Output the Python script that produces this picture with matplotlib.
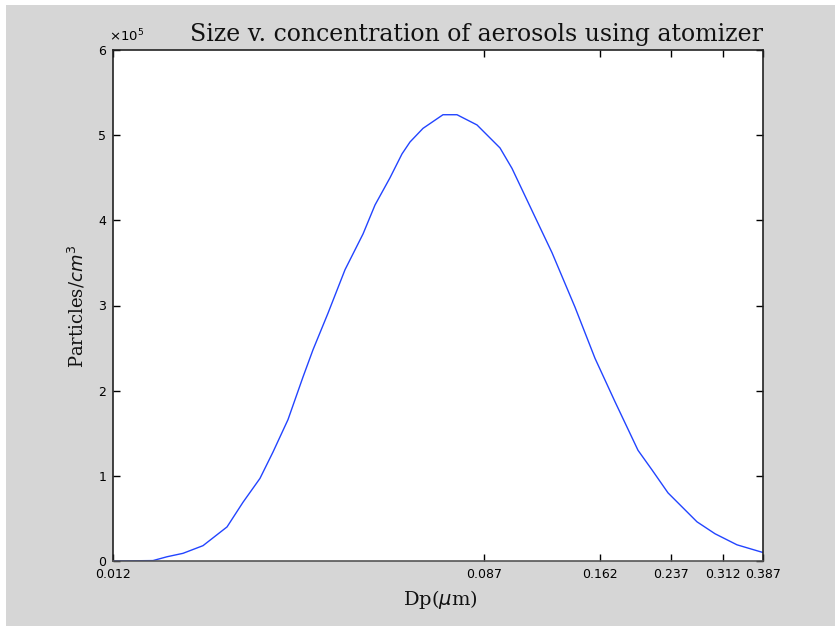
"""
Size v. concentration of aerosols (atomizer) - MATLAB-style log-x line plot.
"""
import matplotlib
matplotlib.use("Agg")
import matplotlib.pyplot as plt
from matplotlib.patches import Rectangle
from matplotlib.ticker import FixedLocator, FixedFormatter, NullLocator
import numpy as np

# particle diameter (um) and concentration (x1e5 particles/cm^3)
dp_um = [0.01200, 0.01486, 0.01602, 0.01744, 0.01941, 0.02207, 0.02404, 0.02632,
         0.02822, 0.03057, 0.03312, 0.03494, 0.03786, 0.04146, 0.04565, 0.04867,
         0.05273, 0.05622, 0.05868, 0.06290, 0.06999, 0.07543, 0.08394, 0.09492,
         0.10120, 0.11444, 0.12533, 0.14172, 0.15769, 0.17549, 0.19843, 0.21384,
         0.23294, 0.27197, 0.29945, 0.33680, 0.38086, 0.38700]
conc_e5 = [0.0, 0.005, 0.05, 0.09, 0.18, 0.40, 0.69, 0.97,
           1.28, 1.66, 2.16, 2.48, 2.91, 3.42, 3.84, 4.18,
           4.50, 4.78, 4.92, 5.08, 5.24, 5.24, 5.12, 4.85,
           4.61, 4.04, 3.62, 2.98, 2.38, 1.87, 1.30, 1.07,
           0.80, 0.46, 0.32, 0.19, 0.11, 0.10]

xtick_vals = [0.012, 0.087, 0.162, 0.237, 0.312, 0.387]
xtick_labels = ["0.012", "0.087", "0.162", "0.237", "0.312", "0.387"]
ytick_vals = [0, 1, 2, 3, 4, 5, 6]

W, H = 835, 626
fig = plt.figure(figsize=(W / 100, H / 100), dpi=100, facecolor="white")
# grey MATLAB figure area (thin white strip on top/left like the screenshot)
fig.patches.append(Rectangle((6 / W, 0), 1, 1 - 5 / H, transform=fig.transFigure,
                             facecolor="#d6d6d6", edgecolor="none", zorder=-10))

ax = fig.add_axes([113 / W, 1 - 561 / H, 650 / W, 511 / H])
ax.set_facecolor("white")
ax.plot(np.array(dp_um), np.array(conc_e5) * 1e5, color="#2244ff", lw=1.0)

ax.set_xscale("log")
ax.set_xlim(0.012, 0.387)
ax.set_ylim(0, 6e5)
ax.xaxis.set_major_locator(FixedLocator(xtick_vals))
ax.xaxis.set_major_formatter(FixedFormatter(xtick_labels))
ax.xaxis.set_minor_locator(NullLocator())
ax.set_yticks([v * 1e5 for v in ytick_vals])
ax.set_yticklabels([str(v) for v in ytick_vals])

for lab in ax.get_xticklabels() + ax.get_yticklabels():
    lab.set_fontfamily("DejaVu Sans")
    lab.set_fontsize(9)
ax.tick_params(direction="in", length=5, width=1, top=True, right=True,
               colors="black", pad=3)
ax.tick_params(axis="x", pad=5)
ax.tick_params(axis="y", pad=5)
for s in ax.spines.values():
    s.set_linewidth(1.2)
    s.set_color("#222222")
ax.spines["bottom"].set_color("#555555")

fig.text(109 / W, 1 - 41 / H, r"$\times 10^{5}$", ha="left", va="baseline",
         fontsize=9.5, fontfamily="DejaVu Sans")

fig.text(477 / W, 1 - 41 / H, "Size v. concentration of aerosols using atomizer",
         ha="center", va="baseline", fontsize=17, fontfamily="DejaVu Serif",
         color="#111111")
fig.text(440 / W, 1 - 605 / H, r"Dp($\mu$m)", ha="center", va="baseline",
         fontsize=14, fontfamily="DejaVu Serif", color="#111111")
fig.text(77 / W, 1 - 306 / H, r"Particles/$cm^3$", ha="center", va="center",
         rotation=90, fontsize=13, fontfamily="DejaVu Serif", color="#111111")

fig.savefig("out.png", dpi=100, facecolor=fig.get_facecolor())
